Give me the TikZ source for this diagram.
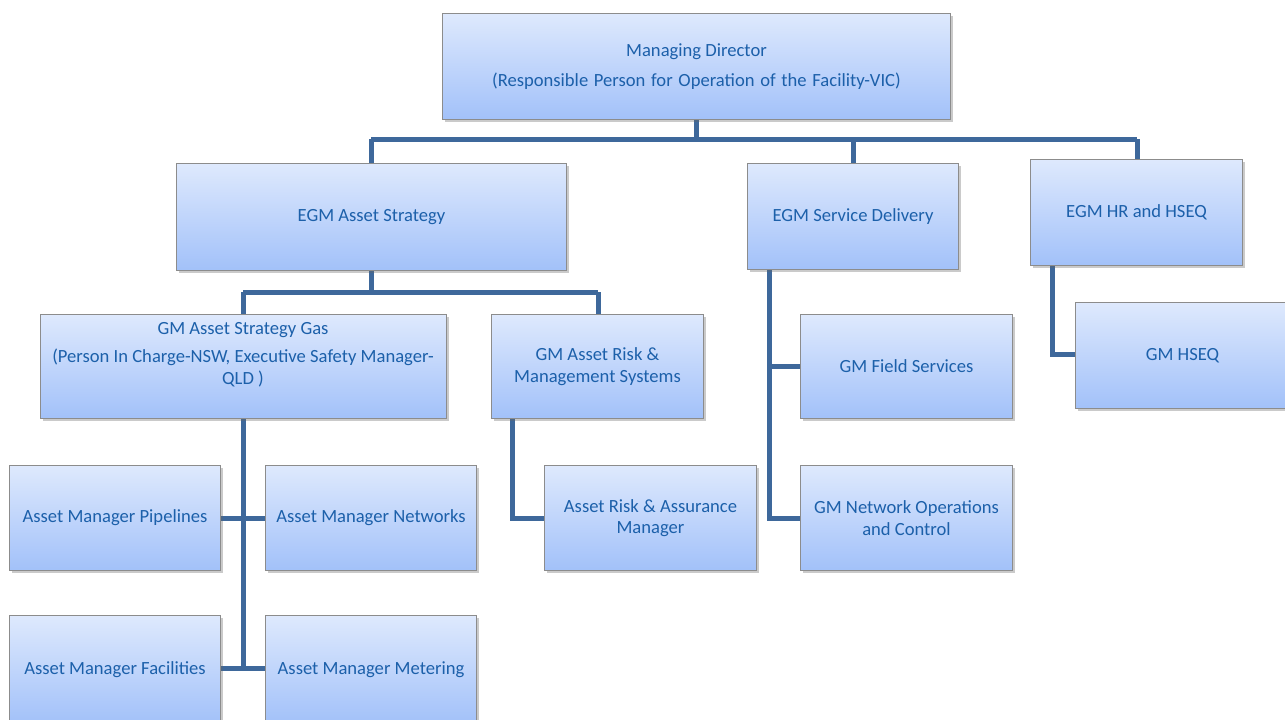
\documentclass[tikz,border=0pt]{standalone}
\usepackage{fontspec}
\setmainfont{Carlito}
\usetikzlibrary{shadows}
\definecolor{boxtop}{RGB}{222,233,253}
\definecolor{boxbot}{RGB}{162,193,249}
\definecolor{boxline}{RGB}{140,140,140}
\definecolor{txt}{RGB}{28,96,170}
\definecolor{conn}{RGB}{62,104,155}
\begin{document}
\begin{tikzpicture}[x=1pt,y=-1pt,
  box/.style={draw=boxline,line width=1pt,top color=boxtop,bottom color=boxbot,
    drop shadow={shadow xshift=2.5pt,shadow yshift=-2.5pt,opacity=0.35,fill=black!60},
    text=txt,font=\fontsize{18.6}{21.5}\selectfont,align=center,inner sep=0pt,anchor=north west},
  conn/.style={draw=conn,line width=5pt}]
\useasboundingbox (0,0) rectangle (1285,720);
% Connectors first
\draw[conn] (696,119) -- (696,139);
\draw[conn] (371,139) -- (1137,139);
\draw[conn] (371,139) -- (371,165);
\draw[conn] (853,139) -- (853,165);
\draw[conn] (1137,139) -- (1137,161);
\draw[conn] (371,270) -- (371,292);
\draw[conn] (243,292) -- (598,292);
\draw[conn] (243,292) -- (243,316);
\draw[conn] (598,292) -- (598,316);
\draw[conn] (243,418) -- (243,668);
\draw[conn] (220,518) -- (265,518);
\draw[conn] (220,668) -- (265,668);
\draw[conn] (512,418) |- (544,518);
\draw[conn] (769,269) -- (769,518) -- (800,518);
\draw[conn] (769,366) -- (800,366);
\draw[conn] (1052,265) |- (1075,354);
% Boxes
\node[box,minimum width=508pt,minimum height=106pt] (md) at (442,13) {Managing Director\\[8pt](Responsible\hspace{1.5pt} Person\hspace{1.5pt} for\hspace{1.5pt} Operation\hspace{1.5pt} of\hspace{1.5pt} the\hspace{1.5pt} Facility-VIC)};
\node[box,minimum width=390pt,minimum height=107pt] (eas) at (176,163) {EGM Asset Strategy};
\node[box,minimum width=211pt,minimum height=106pt] (esd) at (747,163) {EGM Service Delivery};
\node[box,minimum width=212pt,minimum height=106pt] (ehr) at (1030,159) {EGM HR and HSEQ};
\node[box,minimum width=406pt,minimum height=104pt] (gas) at (40,314) {};
\node[text=txt,font=\fontsize{18.6}{21.5}\selectfont,align=flush center,anchor=north,text width=410pt,inner sep=0pt] (gastxt) at (243,322) {GM Asset Strategy Gas\\[7pt](Person In Charge-NSW, Executive Safety Manager-\\QLD )};
\node[box,minimum width=212pt,minimum height=104pt] (gar) at (491,314) {GM Asset Risk \&\\Management Systems};
\node[box,minimum width=212pt,minimum height=104pt] (gfs) at (800,314) {GM Field Services};
\node[box,minimum width=214pt,minimum height=106pt] (ghs) at (1075,302) {GM HSEQ};
\node[box,minimum width=211pt,minimum height=105pt] (amp) at (9,465) {Asset Manager Pipelines};
\node[box,minimum width=211pt,minimum height=105pt] (amn) at (265,465) {Asset Manager Networks};
\node[box,minimum width=212pt,minimum height=105pt] (ara) at (544,465) {Asset Risk \& Assurance\\Manager};
\node[box,minimum width=212pt,minimum height=105pt] (gno) at (800,465) {GM Network Operations\\and Control};
\node[box,minimum width=211pt,minimum height=108pt] (amf) at (9,615) {Asset Manager Facilities};
\node[box,minimum width=211pt,minimum height=108pt] (amm) at (265,615) {Asset Manager Metering};
\end{tikzpicture}
\end{document}
